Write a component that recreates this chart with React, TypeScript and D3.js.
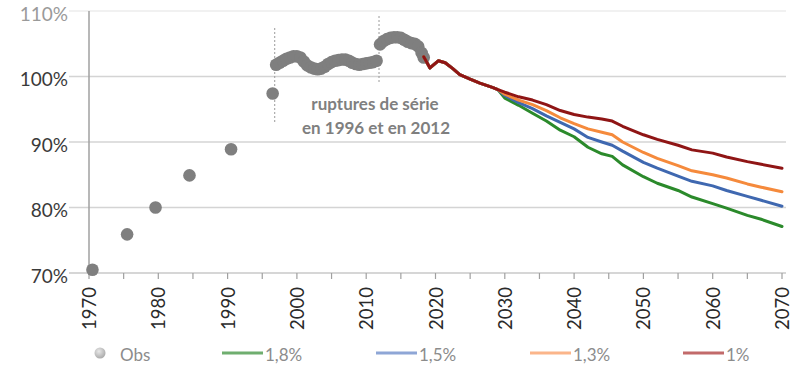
import * as d3 from "d3"

const width = 807
const height = 372

// observations: [year, % of reference]
const obsSparse: [number, number][] = [
  [1970.5, 70.5], [1975.5, 75.9], [1979.6, 80.0], [1984.5, 84.9], [1990.5, 88.9], [1996.5, 97.4],
]
const obsBand1: [number, number][] = [
  [1997.0, 101.8], [1997.5, 102.1], [1998.0, 102.4], [1998.5, 102.7], [1999.0, 102.9], [1999.5, 103.1],
  [2000.0, 103.1], [2000.5, 102.9], [2001.0, 102.3], [2001.5, 101.7], [2002.0, 101.4], [2002.5, 101.2],
  [2003.0, 101.1], [2003.5, 101.2], [2004.0, 101.5], [2004.5, 101.9], [2005.0, 102.2], [2005.5, 102.4],
  [2006.0, 102.5], [2006.5, 102.6], [2007.0, 102.6], [2007.5, 102.4], [2008.0, 102.1], [2008.5, 101.9],
  [2009.0, 101.8], [2009.5, 101.9], [2010.0, 102.0], [2010.5, 102.1], [2011.0, 102.2], [2011.5, 102.4],
]
const obsBand2: [number, number][] = [
  [2012.0, 104.9], [2012.5, 105.4], [2013.0, 105.7], [2013.5, 105.9], [2014.0, 106.0], [2014.5, 106.0],
  [2015.0, 105.9], [2015.5, 105.6], [2016.0, 105.3], [2016.5, 105.1], [2017.0, 105.0], [2017.5, 104.6],
  [2018.0, 103.6], [2018.3, 102.9],
]

// common projection part before scenarios split
const common: [number, number][] = [
  [2018.3, 103.0], [2019.2, 101.3], [2020.4, 102.4], [2021.4, 102.1], [2022.5, 101.2], [2023.5, 100.3],
  [2025, 99.6], [2026.4, 99.0], [2028.3, 98.3], [2029, 98.0],
]
const projYears = [2030, 2032, 2034, 2036, 2038, 2040, 2042, 2044, 2045.5, 2047, 2050, 2052, 2055, 2057, 2060, 2062, 2065, 2067, 2070]
const s18 = [96.7, 95.6, 94.4, 93.2, 91.8, 90.8, 89.2, 88.2, 87.8, 86.5, 84.7, 83.7, 82.6, 81.6, 80.6, 79.9, 78.8, 78.2, 77.1]
const s15 = [97.1, 96.0, 95.1, 94.0, 93.0, 92.0, 90.7, 90.0, 89.5, 88.6, 86.9, 86.0, 84.8, 84.0, 83.3, 82.6, 81.7, 81.1, 80.2]
const s13 = [97.3, 96.4, 95.7, 94.8, 93.7, 92.8, 92.0, 91.5, 91.1, 90.0, 88.4, 87.5, 86.4, 85.6, 85.0, 84.5, 83.6, 83.1, 82.4]
const s10 = [97.6, 96.9, 96.4, 95.7, 94.8, 94.2, 93.8, 93.5, 93.2, 92.4, 91.1, 90.4, 89.5, 88.8, 88.3, 87.7, 87.0, 86.6, 86.0]

const series = [
  { name: "1,8%", values: s18, color: "#2b8a2b", legend: "#6fae6f" },
  { name: "1,5%", values: s15, color: "#3f68b0", legend: "#8ea6d6" },
  { name: "1,3%", values: s13, color: "#f58a3c", legend: "#fbb58a" },
  { name: "1%", values: s10, color: "#8f1515", legend: "#c26a6a" },
]

const yTicks = [70, 80, 90, 100, 110]
const xLabelYears = d3.range(1970, 2071, 10)
const xTickYears = d3.range(1970, 2071, 5)
const breakYears = [1996.8, 2011.85]

const x = d3.scaleLinear().domain([1970, 2070]).range([89, 782])
const y = d3.scaleLinear().domain([70, 110]).range([273, 11])

const line = d3
  .line<[number, number]>()
  .x((d) => x(d[0]))
  .y((d) => y(d[1]))

const font = "Lato, 'Open Sans', sans-serif"

export default function App() {
  const allObs = [...obsSparse, ...obsBand1, ...obsBand2]
  return (
    <svg
      width={width}
      height={height}
      style={{ position: "absolute", left: 0, top: 0, background: "#fff" }}
      fontFamily={font}
    >
      <defs>
        <radialGradient id="obsGrad" cx="40%" cy="35%" r="70%">
          <stop offset="0%" stopColor="#e8e8e8" />
          <stop offset="100%" stopColor="#a6a6a6" />
        </radialGradient>
      </defs>

      {/* grid */}
      {yTicks.slice(1).map((t) => (
        <line key={t} x1={x(1970) - 20} x2={x(2070) + 4} y1={y(t)} y2={y(t)}
          stroke={t === 110 ? "#ececec" : "#d4d4d4"} strokeWidth={1.5} />
      ))}
      {/* axes */}
      <line x1={x(1970)} x2={x(1970)} y1={y(110)} y2={y(70)} stroke="#a0a0a0" strokeWidth={1.5} />
      <line x1={x(1970) - 20} x2={x(2070) + 4} y1={y(70)} y2={y(70)} stroke="#c8c8c8" strokeWidth={1.5} />
      {xTickYears.map((yr) => (
        <line key={yr} x1={x(yr)} x2={x(yr)} y1={y(70)} y2={y(70) + 6} stroke="#a0a0a0" strokeWidth={1.2} />
      ))}
      {yTicks.map((t) => (
        <text key={t} x={68} y={y(t) + 2} textAnchor="end" dominantBaseline="central"
          fontSize={19} fill={t === 110 ? "#9a9a9a" : "#3a3a3a"}>
          {t}%
        </text>
      ))}
      {xLabelYears.map((yr) => (
        <text key={yr} transform={`translate(${x(yr)},${y(70) + 14}) rotate(-90)`}
          textAnchor="end" dominantBaseline="central" fontSize={18.5} fill="#2a2a2a">
          {yr}
        </text>
      ))}

      {/* series breaks */}
      <line x1={x(breakYears[0])} x2={x(breakYears[0])} y1={28} y2={122}
        stroke="#9a9a9a" strokeWidth={1} strokeDasharray="2,2" />
      <line x1={x(breakYears[1])} x2={x(breakYears[1])} y1={16} y2={82}
        stroke="#9a9a9a" strokeWidth={1} strokeDasharray="2,2" />
      <text x={375} y={103} textAnchor="middle" dominantBaseline="central"
        fontSize={17} fontWeight={700} fill="#7f7f7f">ruptures de série</text>
      <text x={376} y={127} textAnchor="middle" dominantBaseline="central"
        fontSize={17} fontWeight={700} fill="#7f7f7f">en 1996 et en 2012</text>

      {/* observations */}
      {allObs.map((d, i) => (
        <circle key={i} cx={x(d[0])} cy={y(d[1])} r={6.3} fill="#7f7f7f" />
      ))}

      {/* projections */}
      {series.map((s) => {
        const pts: [number, number][] = [...common, ...projYears.map((yr, i) => [yr, s.values[i]] as [number, number])]
        return (
          <path key={s.name} d={line(pts) || ""} fill="none" stroke={s.color}
            strokeWidth={3} strokeLinejoin="round" strokeLinecap="round" />
        )
      })}

      {/* legend */}
      <g>
        <circle cx={100} cy={353} r={5.5} fill="url(#obsGrad)" />
        <text x={120} y={354} dominantBaseline="central" fontSize={17} fill="#8c8c8c">Obs</text>
        {series.map((s, i) => {
          const lx = [222, 376, 530, 683][i]
          return (
            <g key={s.name}>
              <line x1={lx} x2={lx + 41} y1={353} y2={353} stroke={s.legend} strokeWidth={3} />
              <text x={lx + 43} y={354} dominantBaseline="central" fontSize={17} fill="#8c8c8c">{s.name}</text>
            </g>
          )
        })}
      </g>
    </svg>
  )
}
